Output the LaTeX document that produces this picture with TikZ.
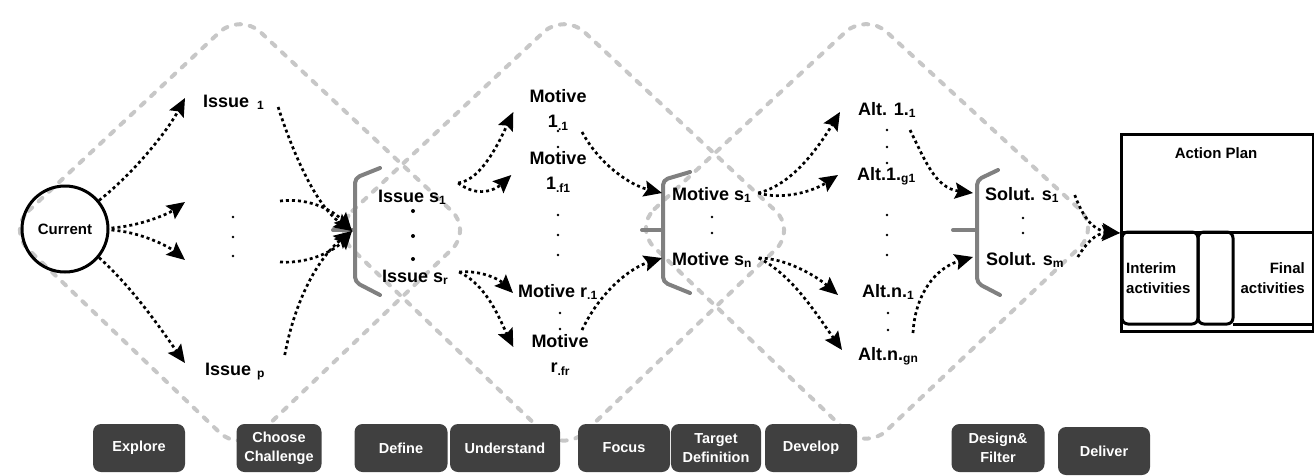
\documentclass[tikz,border=0pt]{standalone}
\usepackage{fontspec}
\setmainfont{Liberation Sans}
\usetikzlibrary{arrows.meta}
% small lowered index after a label
\newcommand{\sbs}[1]{\raisebox{-2.5pt}{\fontsize{12}{12}\selectfont #1}}
\begin{document}
\begin{tikzpicture}[x=1pt,y=-1pt,
  phase/.style={draw=black!22, line width=4pt, dash pattern=on 5pt off 9pt, line cap=round, rounded corners=28pt},
  brace/.style={draw=black!50, line width=4pt, line cap=round, line join=round, rounded corners=5pt},
  flow/.style={line width=2.7pt, dash pattern=on 3pt off 3pt, -{Stealth[length=18pt,width=16pt,inset=3pt]}},
  lbl/.style={font=\fontsize{18}{25}\selectfont\bfseries, inner sep=0pt, align=center},
  pt/.style={circle, fill=black, inner sep=0pt, minimum size=2.8pt},
  bigpt/.style={pt, minimum size=4pt},
  stage/.style={fill=black!75, rounded corners=8pt, text=white, font=\fontsize{14.5}{19}\selectfont\bfseries, align=center, inner sep=0pt, minimum height=48pt},
  plan/.style={line width=3pt},
  note/.style={font=\fontsize{15}{20}\selectfont\bfseries, inner sep=0pt}
]
\useasboundingbox (0,0) rectangle (1314,475);

% three overlapping diverge/converge phases
\draw[phase] (8,230) -- (240,13) -- (472,230) -- (240,452) -- cycle;
\draw[phase] (332,230) -- (564,13) -- (796,230) -- (564,452) -- cycle;
\draw[phase] (634,228) -- (866,13) -- (1100,228) -- (866,450) -- cycle;

% grouping braces
\draw[brace] (380,168) -- (355,178) -- (355,282) -- (380,295);
\draw[brace] (333,230) -- (355,230);
\draw[brace] (690,172) -- (663,180) -- (663,282) -- (690,293);
\draw[brace] (642,230) -- (663,230);
\draw[brace] (998,170) -- (977,180) -- (977,283) -- (1000,295);
\draw[brace] (953,230) -- (977,230);
\coordinate (in1) at (352,231);

% start
\node[circle, draw, line width=3pt, minimum size=86pt, inner sep=0pt, font=\fontsize{15}{18}\selectfont\bfseries] (cur) at (65,229) {Current};

% issues
\node[lbl, anchor=base west] (iss1) at (203,107) {Issue\hspace{8pt}\sbs{1}};
\node[pt] (dA1) at (233,217) {};
\node[pt] (dA2) at (233,237) {};
\node[pt] (dA3) at (233,256) {};
\node[lbl, anchor=base west] (issp) at (205,375) {Issue\hspace{6pt}\sbs{p}};

% selected issues
\node[lbl, anchor=base west] (isss1) at (378,202) {Issue s\sbs{1}};
\node[bigpt] (dB1) at (413,211) {};
\node[bigpt] (dB2) at (413,236) {};
\node[bigpt] (dB3) at (413,259) {};
\node[lbl, anchor=base west] (isssr) at (382,282) {Issue s\sbs{r}};

% motives
\node[lbl] (m11) at (558,110) {Motive\\1\sbs{.1}};
\node[pt] (dC1) at (558,131) {};
\node[pt] (dC2) at (558,147) {};
\node[lbl] (m1f) at (558,172) {Motive\\1\sbs{.f1}};
\node[pt] (dD1) at (558,215) {};
\node[pt] (dD2) at (558,235) {};
\node[pt] (dD3) at (558,255) {};
\node[lbl, anchor=base west] (mr1) at (518,297) {Motive r\sbs{.1}};
\node[pt] (dE1) at (560,313) {};
\node[pt] (dE2) at (560,329) {};
\node[lbl] (mrf) at (560,355) {Motive\\r\sbs{.fr}};

% selected motives
\node[lbl, anchor=base west] (ms1) at (672,200) {Motive s\sbs{1}};
\node[pt] (dF1) at (712,217) {};
\node[pt] (dF2) at (712,233) {};
\node[lbl, anchor=base west] (msn) at (672,265) {Motive s\sbs{n}};

% alternatives
\node[lbl, anchor=base west] (a11) at (858,115) {Alt. 1.\sbs{1}};
\node[pt] (dG1) at (887,130) {};
\node[pt] (dG2) at (887,147) {};
\node[pt] (dG3) at (887,163) {};
\node[lbl, anchor=base west] (a1g) at (857,180) {Alt.1.\sbs{g1}};
\node[pt] (dH1) at (887,215) {};
\node[pt] (dH2) at (887,235) {};
\node[pt] (dH3) at (887,255) {};
\node[lbl, anchor=base west] (an1) at (862,297) {Alt.n.\sbs{1}};
\node[pt] (dI1) at (888,313) {};
\node[pt] (dI2) at (888,330) {};
\node[lbl, anchor=base west] (ang) at (858,360) {Alt.n.\sbs{gn}};

% solutions
\node[lbl, anchor=base west] (ss1) at (985,200) {Solut. s\sbs{1}};
\node[pt] (dJ1) at (1023,218) {};
\node[pt] (dJ2) at (1023,233) {};
\node[lbl, anchor=base west] (ssm) at (986,265) {Solut. s\sbs{m}};

% action plan
\node[draw, plan, minimum width=192pt, minimum height=197pt, anchor=north west, inner sep=0pt] (plan) at (1120,133) {};
\node[note] (aptitle) at (1216,153) {Action Plan};
\draw[plan] (1120,232) -- (1312,232);
\draw[plan, rounded corners=6pt] (1122,232) rectangle (1198,324);
\draw[plan, rounded corners=6pt] (1198,232) rectangle (1233,324);
\draw[plan] (1233,324) -- (1312,324);
\node[note, align=left, anchor=west] (interim) at (1126,278) {Interim\\activities};
\node[note, align=right, anchor=east] (final) at (1305,278) {Final\\activities};

% explore
\draw[flow] (cur.40) .. controls (135,172) and (168,130) .. ([shift={(-18,-9)}]iss1.base west);
\draw[flow] ([shift={(2,-1)}]cur.east) .. controls (140,226) and (168,214) .. ([shift={(-48,-15)}]dA1.center);
\draw[flow] ([shift={(2,1)}]cur.east) .. controls (140,232) and (168,246) .. ([shift={(-48,4)}]dA3.center);
\draw[flow] (cur.-40) .. controls (135,290) and (165,335) .. ([shift={(-20,-12)}]issp.base west);
% choose
\draw[flow] ([shift={(14,0)}]iss1.base east) .. controls (292,150) and (315,205) .. (in1);
\draw[flow] ([shift={(47,-16)}]dA1.center) .. controls (310,197) and (335,212) .. (in1);
\draw[flow] ([shift={(47,6)}]dA3.center) .. controls (310,264) and (335,250) .. (in1);
\draw[flow] ([shift={(20,-20)}]issp.base east) .. controls (295,300) and (318,258) .. (in1);
% understand
\draw[flow] ([shift={(12,-19)}]isss1.base east) .. controls (482,180) and (500,140) .. ([shift={(-16,2)}]m11.west);
\draw[flow] ([shift={(12,-19)}]isss1.base east) .. controls (478,198) and (495,190) .. ([shift={(-18,3)}]m1f.west);
\draw[flow] ([shift={(11,-10)}]isssr.base east) .. controls (482,270) and (500,280) .. ([shift={(-5,-4)}]mr1.base west);
\draw[flow] ([shift={(11,-10)}]isssr.base east) .. controls (487,285) and (500,320) .. ([shift={(-18,-8)}]mrf.west);
% focus
\draw[flow] ([shift={(24,22)}]m11.center) .. controls (600,165) and (630,185) .. ([shift={(-10,-7)}]ms1.base west);
\draw[flow] ([shift={(22,-25)}]mrf.center) .. controls (600,292) and (630,268) .. ([shift={(-10,-7)}]msn.base west);
% develop
\draw[flow] ([shift={(7,-7)}]ms1.base east) .. controls (792,185) and (818,148) .. ([shift={(-18,-3)}]a11.base west);
\draw[flow] ([shift={(7,-7)}]ms1.base east) .. controls (782,200) and (812,192) .. ([shift={(-19,-5)}]a1g.base west);
\draw[flow] ([shift={(7,-7)}]msn.base east) .. controls (785,258) and (815,275) .. ([shift={(-24,-2)}]an1.base west);
\draw[flow] ([shift={(7,-7)}]msn.base east) .. controls (792,275) and (815,312) .. ([shift={(-16,-10)}]ang.base west);
% design & filter
\draw[flow] ([shift={(52,15)}]a11.base west) .. controls (925,160) and (935,188) .. ([shift={(-12,-7)}]ss1.base west);
\draw[flow] ([shift={(55,-27)}]ang.base west) .. controls (915,295) and (935,268) .. ([shift={(-13,-8)}]ssm.base west);
% deliver
\draw[flow] ([shift={(16,-5)}]ss1.base east) .. controls (1082,215) and (1092,230) .. (plan.west);
\draw[flow] ([shift={(14,-8)}]ssm.base east) .. controls (1085,245) and (1095,233) .. (plan.west);

% stage labels
\node[stage, minimum width=92pt] (explore) at (139,448) {Explore};
\node[stage, minimum width=85pt] (choose) at (279,448) {Choose\\Challenge};
\node[stage, minimum width=93pt] (define) at (401,448) {Define};
\node[stage, minimum width=110pt] (understand) at (505,448) {Understand};
\node[stage, minimum width=92pt] (focus) at (624,448) {Focus};
\node[stage, minimum width=90pt] (target) at (716,448) {Target\\Definition};
\node[stage, minimum width=92pt] (develop) at (811,448) {Develop};
\node[stage, minimum width=93pt] (design) at (998,448) {Design\&\\Filter};
\node[stage, minimum width=92pt] (deliver) at (1104,451) {Deliver};
\end{tikzpicture}
\end{document}
